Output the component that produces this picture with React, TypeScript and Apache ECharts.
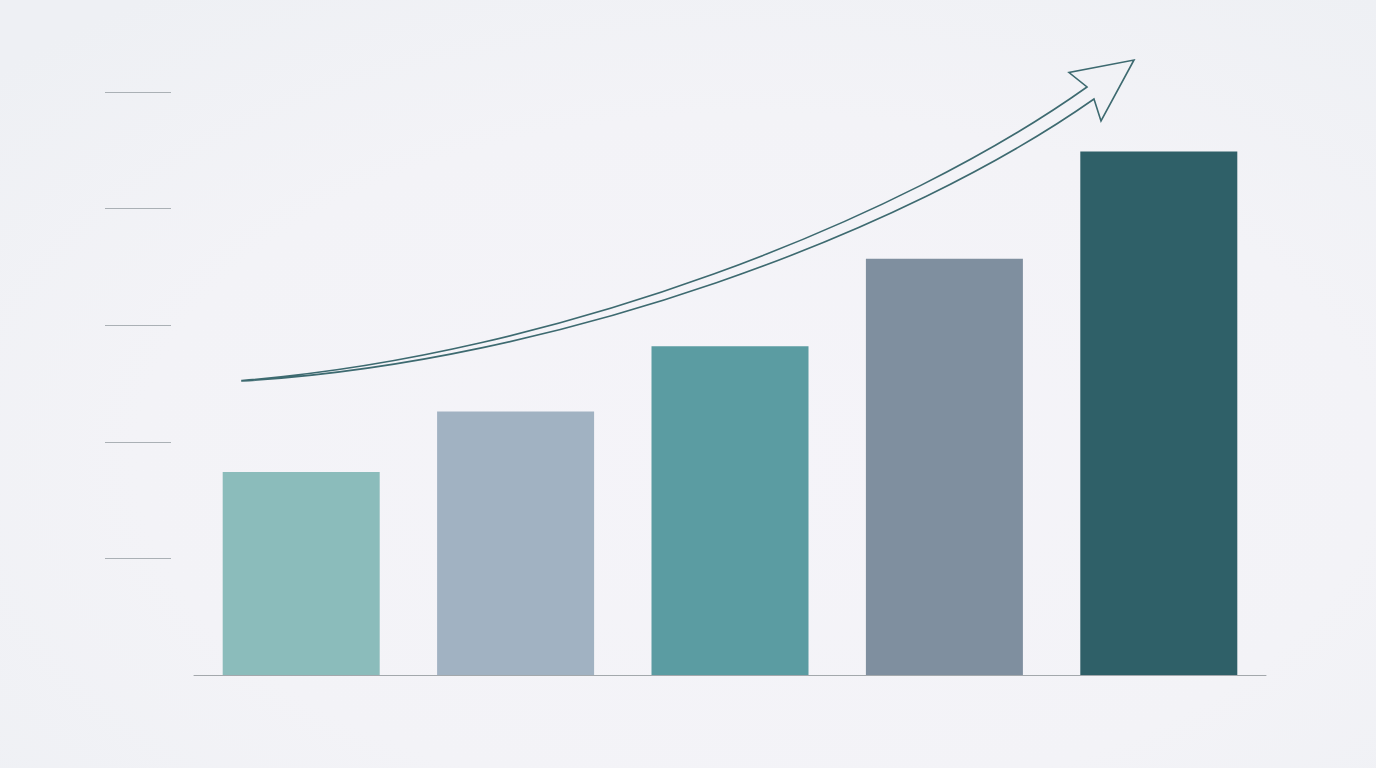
import * as echarts from 'echarts';
import React, { useEffect, useRef } from 'react';

// five steps, no labels shown in the picture
const categories = ['A', 'B', 'C', 'D', 'E'];
const values = [1.74, 2.26, 2.82, 3.57, 4.49];
const barColors = ['#8bbcbb', '#a1b2c2', '#5b9ca2', '#7f8f9f', '#2f6068'];
const tickValues = [1, 2, 3, 4, 5];

// outlined growth arrow (decoration)
const arrowPath =
  'M242 380.5 C560 355 900 220 1087 87 L1069 72.5 L1134 60 L1101 121 L1094 99 ' +
  'C905 232 560 362 242 381 Z';

echarts.graphic.registerShape('growthArrow', echarts.graphic.extendPath(arrowPath, {}) as any);

const App: React.FC = () => {
  const chartRef = useRef<HTMLDivElement>(null);

  useEffect(() => {
    const myChart = echarts.init(chartRef.current!, null, { renderer: 'svg' });

    const option = {
      animation: false,
      backgroundColor: {
        type: 'radial',
        x: 0.55,
        y: 0.6,
        r: 0.75,
        colorStops: [
          { offset: 0, color: '#f5f4f9' },
          { offset: 0.6, color: '#f3f3f7' },
          { offset: 1, color: '#eef0f4' },
        ],
      },
      grid: { left: 194, right: 110, top: 92, bottom: 93 },
      xAxis: {
        type: 'category',
        data: categories,
        axisLine: { lineStyle: { color: '#a3a8ac', width: 1 } },
        axisTick: { show: false },
        axisLabel: { show: false },
      },
      yAxis: {
        type: 'value',
        min: 0,
        max: 5,
        interval: 1,
        offset: 23,
        axisLine: { show: false },
        axisLabel: { show: false },
        splitLine: { show: false },
        axisTick: {
          show: true,
          length: 66,
          customValues: tickValues,
          lineStyle: { color: '#aab0b5', width: 1.2 },
        },
      },
      series: [
        {
          type: 'bar',
          barWidth: 157,
          data: values.map((v, i) => ({
            value: v,
            itemStyle: { color: barColors[i] },
          })),
        },
      ],
      graphic: [
        {
          type: 'growthArrow',
          x: 0,
          y: 0,
          style: { fill: 'none', stroke: '#3d6a70', lineWidth: 1.6 },
        },
      ],
    };

    myChart.setOption(option as any);

    return () => {
      myChart.dispose();
    };
  }, []);

  return (
    <div
      ref={chartRef}
      style={{ position: 'fixed', left: 0, top: 0, width: '1376px', height: '768px' }}
    />
  );
};

export default App;
